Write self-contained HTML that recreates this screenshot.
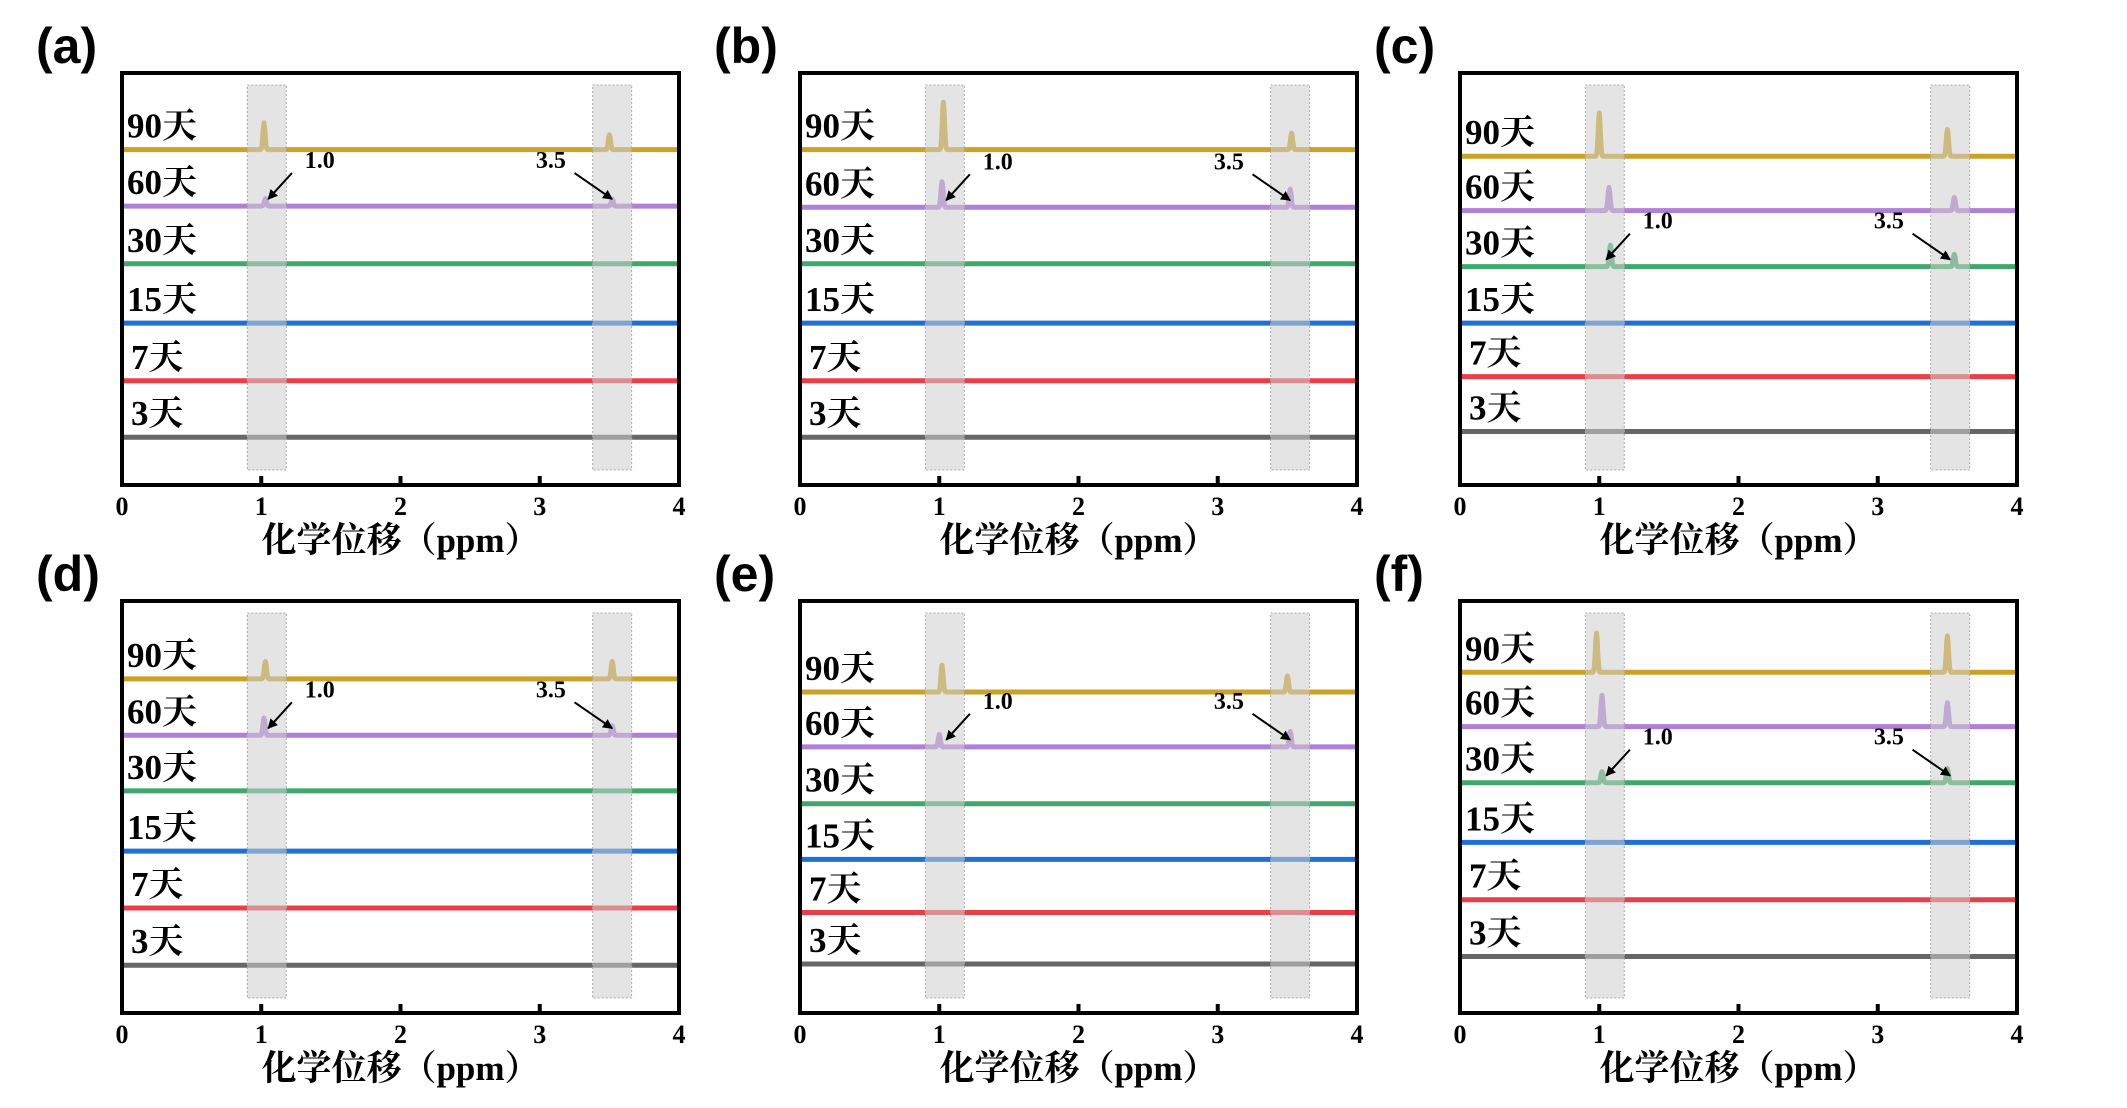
<!DOCTYPE html>
<html><head><meta charset="utf-8"><style>
html,body{margin:0;padding:0;background:#fff}
svg{display:block}
text{font-family:"Liberation Serif","Noto Serif CJK SC",serif;font-weight:bold}
</style></head><body>
<svg id="chart" width="2127" height="1108" viewBox="0 0 2127 1108" xmlns="http://www.w3.org/2000/svg"></svg>
<script>
// ---- data ----
const panelLetters = ["a","b","c","d","e","f"];
const seriesNames = ["90天","60天","30天","15天","7天","3天"];
const seriesColors = ["#c9a227","#b07fd8","#3fa86a","#1f6fd6","#e8404a","#666666"];
const xTicks = [0,1,2,3,4];
// baseline offsets (0 = box bottom, 100 = box top) per panel
const baseA = [81.4,67.7,53.7,39.3,25.3,11.6];
const baseB = [81.4,67.4,53.7,39.3,25.3,11.6];
const baseC = [79.8,66.6,53.0,39.3,26.3,13.0];
const baseD = [81.1,67.4,53.9,39.3,25.5,11.6];
const baseE = [77.9,64.6,50.8,37.3,24.4,11.9];
const baseF = [82.7,69.5,55.9,41.4,27.5,13.7];
// peaks: [seriesIndex, ppm, height]
const peaksA = [[0,1.02,6.5],[0,3.50,3.6],[1,1.03,1.8],[1,3.52,1.6]];
const peaksB = [[0,1.03,11.5],[0,3.53,4.0],[1,1.02,6.2],[1,3.52,4.4]];
const peaksC = [[0,1.00,10.5],[0,3.50,6.5],[1,1.07,5.6],[1,3.55,3.2],[2,1.08,5.2],[2,3.55,3.0]];
const peaksD = [[0,1.03,4.2],[0,3.52,4.2],[1,1.02,4.2],[1,3.52,2.3]];
const peaksE = [[0,1.02,6.5],[0,3.50,3.9],[1,1.00,3.0],[1,3.52,3.7]];
const peaksF = [[0,0.98,9.5],[0,3.50,8.8],[1,1.02,7.6],[1,3.50,5.8],[2,1.02,2.7],[2,3.50,3.4]];
const bands = [[0.90,1.18],[3.38,3.66]];
const annotSeries = [1,1,2,1,1,2];
const annotLabels = ["1.0","3.5"];

const panelBases = [baseA,baseB,baseC,baseD,baseE,baseF];
const panelPeaks = [peaksA,peaksB,peaksC,peaksD,peaksE,peaksF];
// layout
const boxX = [122,800,1460];
const boxY = [73,601];
const boxW = 557, boxH = 412;
const NS = "http://www.w3.org/2000/svg";
const svg = document.getElementById("chart");
function mk(tag, attrs, parent){const e=document.createElementNS(NS,tag);for(const k in attrs)e.setAttribute(k,attrs[k]);(parent||svg).appendChild(e);return e;}

svg.insertAdjacentHTML("beforeend",'<defs><marker id="ah" viewBox="0 0 10 10" refX="9" refY="5" markerWidth="5" markerHeight="5" orient="auto"><path d="M0,0L10,5L0,10z" fill="#000"/></marker></defs>');

panelLetters.forEach((L,p)=>{
  const bx = boxX[p%3], by = boxY[Math.floor(p/3)];
  const xs = v => bx + v/4*boxW;
  const ys = v => by + boxH - v/100*boxH;
  const g = mk("g",{});
  
  
  const lab = mk("text",{x:bx-86,y:by-10,"font-size":50,style:'font-family:"Liberation Sans",sans-serif;font-weight:bold'},g);
  lab.textContent="("+L+")";
  
  
  const base = panelBases[p], peaks = panelPeaks[p];
  seriesNames.forEach((nm,i)=>{
    let d="";
    for(let k=0;k<=800;k++){
      const x=k/200;
      let y=base[i];
      peaks.forEach(pk=>{ if(pk[0]===i){ y+=pk[2]*Math.exp(-Math.pow((x-pk[1])/0.011,2)); } });
      d+=(k?"L":"M")+xs(x).toFixed(1)+","+ys(y).toFixed(2);
    }
    const path=mk("path",{d:d,fill:"none",stroke:seriesColors[i],"stroke-width":5,"stroke-linejoin":"round"},g);
    
    
    const t=mk("text",{x:bx+5+(i>=4?4:0),y:ys(base[i])-12,"font-size":35,fill:"#000"},g);
    t.textContent=nm;
    
    
  });
  bands.forEach(b=>{
    const r=mk("rect",{x:xs(b[0]),y:by+12,width:xs(b[1])-xs(b[0]),height:boxH-27,fill:"rgba(205,205,205,0.55)",stroke:"#aaa","stroke-width":1,"stroke-dasharray":"2,2"},g);
    
    
  });
  const ai=annotSeries[p], ay=ys(base[ai]);
  [[1.05,1.22,1.42],[3.52,3.25,3.08]].forEach((a,j)=>{
    const ar=mk("line",{x1:xs(a[1]),y1:ay-33,x2:xs(a[0]),y2:ay-7,stroke:"#000","stroke-width":2,"marker-end":"url(#ah)"},g);
    
    
    const t=mk("text",{x:xs(a[2]),y:ay-38,"font-size":24,"text-anchor":"middle"},g);
    t.textContent=annotLabels[j];
    
    
  });
  const box=mk("rect",{x:bx,y:by,width:boxW,height:boxH,fill:"none",stroke:"#000","stroke-width":4},g);
  
  
  xTicks.forEach(v=>{
    if(v>0&&v<4){const tk=mk("line",{x1:xs(v),x2:xs(v),y1:by+boxH,y2:by+boxH-9,stroke:"#000","stroke-width":4},g);
    
    }
    const t=mk("text",{x:xs(v),y:by+boxH+30,"font-size":26,"text-anchor":"middle"},g);
    t.textContent=v;
    
    
  });
  const xl=mk("text",{x:bx+boxW/2,y:by+boxH+67,"font-size":35,"text-anchor":"middle"},g);
  xl.textContent="化学位移（ppm）";
  
  
});
</script>
</body></html>
